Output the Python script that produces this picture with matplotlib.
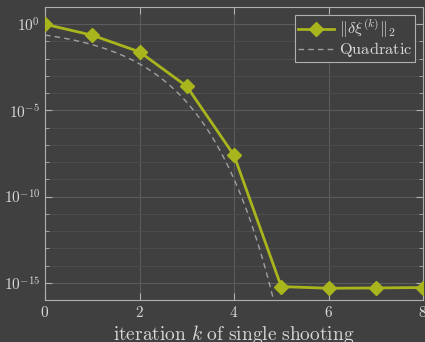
import numpy as np
import matplotlib
matplotlib.use('Agg')
import matplotlib.pyplot as plt
from matplotlib.ticker import LogLocator, FixedLocator, NullFormatter

# datos: norma del paso de Newton por iteración
iteraciones = [0, 1, 2, 3, 4, 5, 6, 7, 8]
norma_paso = [1.0, 2.3e-1, 2.5e-2, 2.5e-4, 2.5e-8, 6.0e-16, 4.8e-16, 5.0e-16, 5.3e-16]

# referencia cuadrática: e_{k+1} = C e_k^2
e0_quad = 0.235
log_c_quad = 0.072

BG = '#404040'
TXT = '#d8d8d8'
VERDE = '#a9b51c'

plt.rcParams['mathtext.fontset'] = 'cm'
plt.rcParams['font.family'] = 'serif'
plt.rcParams['font.serif'] = ['DejaVu Serif']

fig = plt.figure(figsize=(4.25, 3.42), dpi=100, facecolor=BG)
ax = fig.add_axes([45/425, 42/342, 378/425, 293/342], facecolor=BG)

# curva cuadrática continua
kk = np.linspace(0, 4.9, 300)
L0 = np.log10(e0_quad)
m = -log_c_quad
quad = 10 ** (m + 2 ** kk * (L0 - m))
ax.semilogy(kk, quad, color='#a0a0a0', lw=1.0, ls=(0, (4, 3)),
            label='Quadratic', zorder=2)

ax.semilogy(iteraciones, norma_paso, '-D', color=VERDE, lw=2.0, ms=7,
            label=r'$\|\delta\xi^{(k)}\|_2$', zorder=3)

ax.set_xlim(0, 8)
ax.set_ylim(1e-16, 1e1)
ax.set_xticks([0, 2, 4, 6, 8])
ax.yaxis.set_major_locator(FixedLocator([1e-15, 1e-10, 1e-5, 1e0]))
ax.yaxis.set_minor_locator(LogLocator(base=10, subs=(1.0,), numticks=30))
ax.yaxis.set_minor_formatter(NullFormatter())
ax.set_yticklabels([r'$10^{-15}$', r'$10^{-10}$', r'$10^{-5}$', r'$10^{0}$'])
ax.set_xticklabels([r'$0$', r'$2$', r'$4$', r'$6$', r'$8$'])

ax.grid(True, which='major', color='#5c5c5c', lw=0.8)
ax.grid(True, which='minor', axis='y', color='#4c4c4c', lw=0.8)
ax.set_axisbelow(True)

for s in ax.spines.values():
    s.set_color('#b0b0b0')
    s.set_linewidth(0.8)
ax.tick_params(which='both', direction='in', top=True, right=True,
               colors='#b0b0b0', labelcolor=TXT, labelsize=11)
ax.tick_params(which='major', length=5)
ax.tick_params(which='minor', length=3)

ax.set_xlabel(r'$\mathrm{iteration}\ k\ \mathrm{of\ single\ shooting}$',
              color=TXT, fontsize=14, labelpad=2)

leg = ax.legend(handles=ax.get_lines()[::-1], loc='upper right', fontsize=11.8,
                frameon=True, fancybox=False, facecolor=BG, edgecolor='#b0b0b0',
                framealpha=1, handlelength=2.2, borderpad=0.15, labelspacing=0.0,
                handletextpad=0.3, borderaxespad=0.5)
leg.get_frame().set_linewidth(0.8)
for t in leg.get_texts():
    t.set_color(TXT)
leg.get_texts()[1].set_text(r'$\mathrm{Quadratic}$')

fig.savefig('out.png', dpi=100, facecolor=BG)
